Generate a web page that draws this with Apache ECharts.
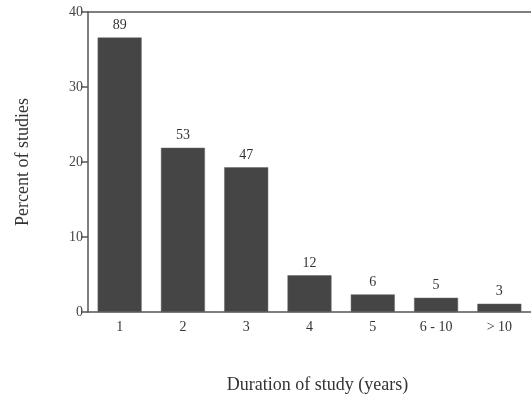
<!DOCTYPE html>
<html>
<head>
<meta charset="utf-8">
<script src="https://cdn.jsdelivr.net/npm/echarts@6/dist/echarts.min.js"></script>
<style>
html,body{margin:0;padding:0;background:#fff;}
#chart{width:531px;height:399px;}
</style>
</head>
<body>
<div id="chart"></div>
<script>
var categories = ['1', '2', '3', '4', '5', '6 - 10', '> 10'];
var percentValues = [36.6, 21.9, 19.3, 4.9, 2.35, 1.9, 1.1];
var countLabels = ['89', '53', '47', '12', '6', '5', '3'];
var yTicks = [0, 10, 20, 30, 40];

var serif = '"Liberation Serif", "DejaVu Serif", serif';
var chart = echarts.init(document.getElementById('chart'));
chart.setOption({
  animation: false,
  backgroundColor: '#ffffff',
  grid: { left: 88, top: 12, width: 448, bottom: 84 },
  xAxis: [{
    type: 'category',
    data: categories,
    position: 'bottom',
    name: 'Duration of study (years)',
    nameLocation: 'middle',
    nameGap: 64,
    nameTextStyle: { fontFamily: serif, fontSize: 18, color: '#333', padding: [0, 0, 0, 16] },
    axisLine: { lineStyle: { color: '#555', width: 1.5 } },
    axisTick: { alignWithLabel: true, length: 5, lineStyle: { color: '#555', width: 1.5 } },
    axisLabel: { fontFamily: serif, fontSize: 14, color: '#333', margin: 8 }
  }, {
    type: 'category',
    data: categories,
    position: 'top',
    axisLine: { show: true, lineStyle: { color: '#555', width: 1.5 } },
    axisTick: { show: false },
    axisLabel: { show: false }
  }],
  yAxis: {
    type: 'value',
    min: yTicks[0],
    max: yTicks[yTicks.length - 1],
    interval: 10,
    name: 'Percent of studies',
    nameLocation: 'middle',
    nameGap: 56,
    nameTextStyle: { fontFamily: serif, fontSize: 18, color: '#333' },
    axisLine: { show: true, lineStyle: { color: '#555', width: 1.5 } },
    axisTick: { show: true, length: 7, lineStyle: { color: '#555', width: 1.5 } },
    axisLabel: { fontFamily: serif, fontSize: 14, color: '#444', margin: 5 },
    splitLine: { show: false }
  },
  series: [{
    type: 'bar',
    data: percentValues,
    barWidth: 44,
    itemStyle: { color: '#454545', borderColor: '#666666', borderWidth: 0.5 },
    label: {
      show: true,
      position: 'top',
      distance: 5,
      fontFamily: serif,
      fontSize: 14,
      color: '#333',
      formatter: function (p) { return countLabels[p.dataIndex]; }
    }
  }]
});
</script>
</body>
</html>
